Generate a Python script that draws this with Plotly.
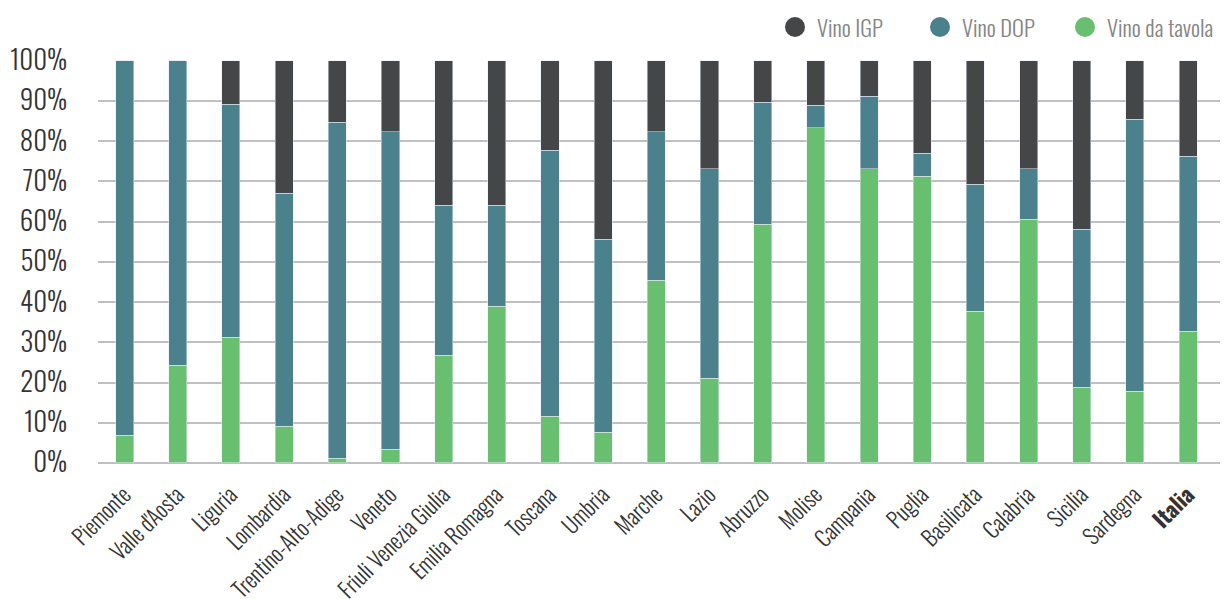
import plotly.graph_objects as go

regioni = ["Piemonte", "Valle d'Aosta", "Liguria", "Lombardia", "Trentino-Alto-Adige",
           "Veneto", "Friuli Venezia Giulia", "Emilia Romagna", "Toscana", "Umbria",
           "Marche", "Lazio", "Abruzzo", "Molise", "Campania", "Puglia", "Basilicata",
           "Calabria", "Sicilia", "Sardegna", "<b>Italia</b>"]

vino_tavola = [6.9, 24.3, 31.3, 9.1, 1.2, 3.4, 26.8, 39.0, 11.6, 7.6,
               45.4, 21.1, 59.4, 83.3, 73.1, 71.3, 37.7, 60.6, 18.8, 17.8, 32.8]
vino_dop = [93.1, 75.7, 57.9, 58.0, 83.5, 78.9, 37.3, 25.1, 66.2, 48.0,
            36.9, 52.0, 30.3, 5.7, 18.1, 5.7, 31.6, 12.5, 39.3, 67.7, 43.5]
vino_igp = [0.0, 0.0, 10.8, 32.9, 15.3, 17.7, 35.9, 35.9, 22.2, 44.4,
            17.7, 26.9, 10.3, 11.0, 8.8, 23.0, 30.7, 26.9, 41.9, 14.5, 23.7]

y_ticks = [0, 10, 20, 30, 40, 50, 60, 70, 80, 90, 100]
y_labels = [f"{v}%" for v in y_ticks]

serie_nomi = ["Vino IGP", "Vino DOP", "Vino da tavola"]
serie_colori = ["#454647", "#4a818c", "#67bf6f"]

FONT = "Oswald, Roboto Condensed, sans-serif"

W, H = 1224, 599
ML, MR, MT, MB = 98, 4, 60, 130

fig = go.Figure()
fig.add_bar(x=regioni, y=vino_tavola, marker_color=serie_colori[2], name=serie_nomi[2], showlegend=False)
fig.add_bar(x=regioni, y=vino_dop, marker_color=serie_colori[1], name=serie_nomi[1], showlegend=False)
fig.add_bar(x=regioni, y=vino_igp, marker_color=serie_colori[0], name=serie_nomi[0], showlegend=False)

# custom legend (circle + label), positioned in pixels
pw, ph = W - ML - MR, H - MT - MB
leg_y = (H - MB - 27) / ph
for i, (nome, col) in enumerate(zip(serie_nomi, serie_colori)):
    cx = (795 + 145 * i - ML) / pw
    fig.add_shape(type="circle", xref="paper", yref="paper", xsizemode="pixel", ysizemode="pixel",
                  xanchor=cx, yanchor=leg_y, x0=-10, x1=10, y0=-10, y1=10,
                  fillcolor=col, line_width=0)
    fig.add_annotation(xref="paper", yref="paper", x=cx + 20 / pw, y=leg_y, xanchor="left",
                       yanchor="middle", showarrow=False, text=nome,
                       font=dict(family=FONT, size=22.5, color="#858585", weight=300))

fig.update_layout(
    width=W, height=H,
    barmode="stack", bargap=0.66,
    plot_bgcolor="white", paper_bgcolor="white",
    margin=dict(l=ML, r=MR, t=MT, b=MB, autoexpand=False),
    font=dict(family=FONT, color="#333333", weight=300),
    showlegend=False,
    xaxis=dict(range=[-0.5, 20.6], tickangle=-45, automargin=False,
               tickfont=dict(family=FONT, size=22, color="#333333", weight=300),
               showgrid=False, ticks="", ticklabelstandoff=8),
    yaxis=dict(range=[-1.5, 100.2], tickvals=y_ticks, ticktext=y_labels, automargin=False,
               tickfont=dict(family=FONT, size=27, color="#333333", weight=300),
               showgrid=True, gridcolor="#c0c0c4", gridwidth=2,
               zeroline=True, zerolinecolor="#c0c0c4", zerolinewidth=2,
               ticks="", ticklabelstandoff=30),
)

fig.write_html("out.html")
